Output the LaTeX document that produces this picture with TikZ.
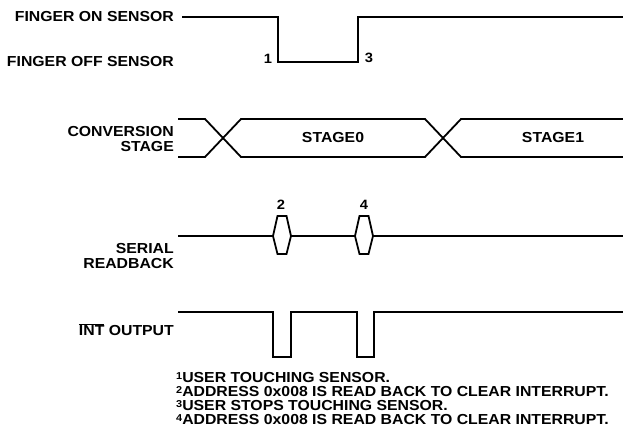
\documentclass[tikz,border=0pt]{standalone}
\usepackage{fontspec}
\setmainfont{Liberation Sans}[FakeStretch=1.09]
\newcommand\fnmark[1]{\raisebox{3pt}{\fontsize{10}{10}\selectfont\bfseries #1}}
\begin{document}
\begin{tikzpicture}[x=1pt,y=-1pt,
  sig/.style={line width=1.8pt,line join=miter},
  lbl/.style={font=\fontsize{14.5}{14.3}\selectfont\bfseries,inner sep=0pt,align=right,anchor=east},
  num/.style={font=\fontsize{13.5}{13.5}\selectfont\bfseries,inner sep=0pt},
  note/.style={font=\fontsize{14.5}{14}\selectfont\bfseries,inner sep=0pt,anchor=base west,text height=10.5pt,text depth=1.5pt}]
\useasboundingbox (0,0) rectangle (623,434);
% labels
\node[lbl] (lon) at (174,17) {FINGER ON SENSOR};
\node[lbl] (loff) at (174,62) {FINGER OFF SENSOR};
\node[lbl] (lconv) at (174,139) {CONVERSION\\STAGE};
\node[lbl] (lser) at (174,256) {SERIAL\\READBACK};
\node[lbl] (lint) at (174,330) {$\overline{\mbox{INT}}$ OUTPUT};
% finger signal
\coordinate (f0) at (182,17);
\draw[sig] (f0) -- (278,17) -- (278,62) -- (358,62) -- (358,17) -- (624,17);
\node[num] (n1) at (268,59) {1};
\node[num] (n3) at (369,58) {3};
% conversion stage
\draw[sig] (178,119) -- (205,119) -- (241,157) -- (425,157) -- (461,119) -- (624,119);
\draw[sig] (178,157) -- (205,157) -- (241,119) -- (425,119) -- (461,157) -- (624,157);
\node[num,font=\fontsize{14.5}{14}\selectfont\bfseries] (s0) at (333,138) {STAGE0};
\node[num,font=\fontsize{14.5}{14}\selectfont\bfseries] (s1) at (553,138) {STAGE1};
% serial readback
\draw[sig] (178,236) -- (273,236);
\draw[sig] (273,236) -- (277.5,216) -- (286.5,216) -- (291,236) -- (286.5,254) -- (277.5,254) -- cycle;
\draw[sig] (291,236) -- (355,236);
\draw[sig] (355,236) -- (359.5,216) -- (368.5,216) -- (373,236) -- (368.5,254) -- (359.5,254) -- cycle;
\draw[sig] (373,236) -- (624,236);
\node[num] (n2) at (281,205) {2};
\node[num] (n4) at (364,205) {4};
% INT output
\draw[sig] (178,312) -- (273,312) -- (273,357) -- (291,357) -- (291,312) -- (357,312) -- (357,357) -- (374,357) -- (374,312) -- (624,312);
% footnotes
\node[note] (note1) at (176,382) {\fnmark{1}USER TOUCHING SENSOR.};
\node[note] (note2) at (176,396) {\fnmark{2}ADDRESS 0x008 IS READ BACK TO CLEAR INTERRUPT.};
\node[note] (note3) at (176,410) {\fnmark{3}USER STOPS TOUCHING SENSOR.};
\node[note] (note4) at (176,424) {\fnmark{4}ADDRESS 0x008 IS READ BACK TO CLEAR INTERRUPT.};
\end{tikzpicture}
\end{document}
